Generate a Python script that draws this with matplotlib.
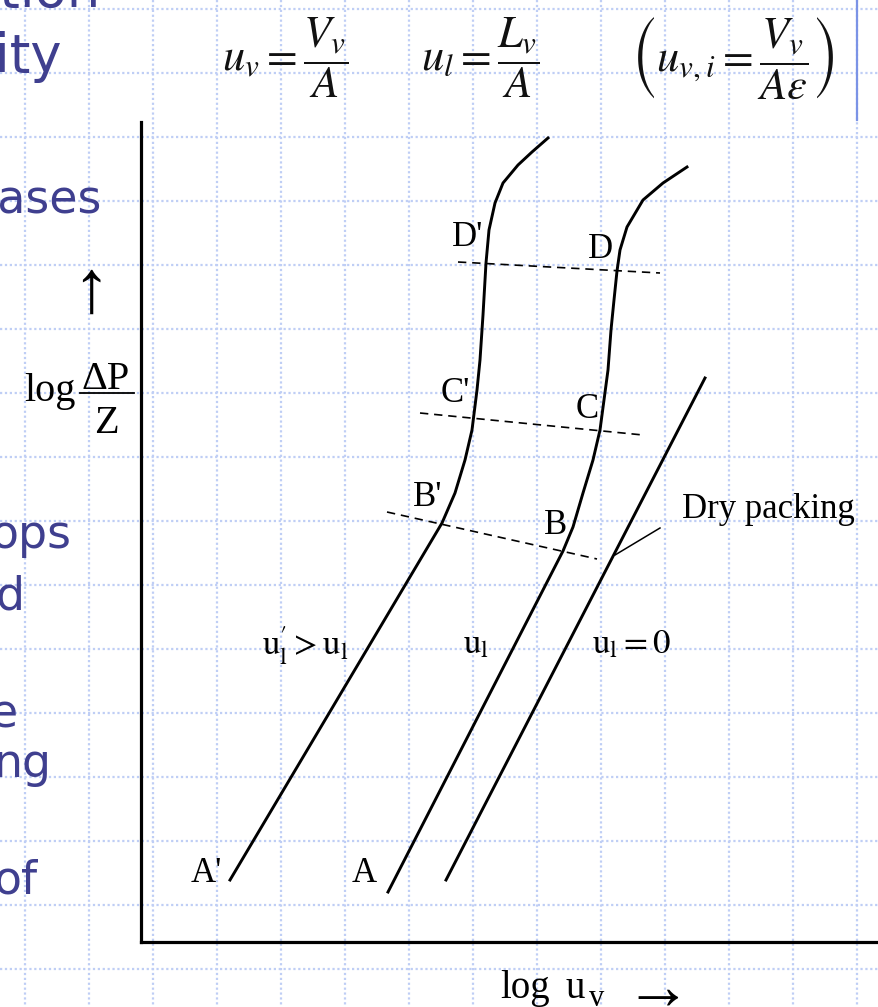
import numpy as np
import matplotlib
matplotlib.use('Agg')
import matplotlib.pyplot as plt

plt.rcParams['mathtext.fontset'] = 'stix'

W, H = 879, 1007
SERIF = ['Liberation Serif', 'DejaVu Serif']
SLIDE_BLUE = '#3f3f8f'
GRID_BLUE = '#bfcef5'

# curves: log u_v vs log dP/Z (arbitrary log units)
wet_hi_x = [0.89, 3.01, 3.14, 3.24, 3.31, 3.36, 3.39, 3.42, 3.45, 3.48, 3.54, 3.62, 3.77, 3.91, 4.07]
wet_hi_y = [0.62, 4.19, 4.49, 4.82, 5.12, 5.52, 5.82, 6.27, 6.79, 7.12, 7.39, 7.59, 7.77, 7.90, 8.04]

wet_x = [2.47, 4.22, 4.32, 4.42, 4.52, 4.59, 4.63, 4.67, 4.70, 4.73, 4.76, 4.79, 4.86, 5.02, 5.22, 5.46]
wet_y = [0.50, 3.91, 4.15, 4.49, 4.82, 5.12, 5.42, 5.72, 6.12, 6.42, 6.71, 6.92, 7.15, 7.42, 7.59, 7.75]

dry_x = [3.05, 5.64]
dry_y = [0.62, 5.64]

# loading / flooding tie lines (B, C, D)
tie_x = [[2.46, 4.56], [2.79, 5.02], [3.17, 5.19]]
tie_y = [[4.30, 3.83], [5.29, 5.07], [6.80, 6.69]]

leader_x = [5.19, 4.74]
leader_y = [4.14, 3.87]

point_labels = ["D'", "D", "C'", "C", "B'", "B", "A'", "A"]
point_x = [3.27, 4.60, 3.14, 4.46, 2.87, 4.15, 0.65, 2.23]
point_y = [7.05, 6.93, 5.49, 5.32, 4.45, 4.17, 0.68, 0.68]

curve_labels = [r"$\mathrm{u}_\mathrm{l}^{\prime} > \mathrm{u}_\mathrm{l}$",
                r"$\mathrm{u}_\mathrm{l}$",
                r"$\mathrm{u}_\mathrm{l} = 0$"]
curve_label_x = [1.21, 3.22, 4.51]
curve_label_y = [2.87, 2.89, 2.89]

# bits of slide body text cut off at the left edge: (text, right x, baseline y, size)
side_text = [("ation", 101, 7, 38), ("ity", 62, 72, 38), ("eases", 102, 213, 33),
             ("ops", 72, 548, 33), ("d", 25, 610, 33), ("e", 18, 727, 33),
             ("ng", 52, 777, 33), ("of", 38, 893, 33)]

fig = plt.figure(figsize=(W / 100, H / 100), dpi=100)

# slide background with the dotted grid
bg = fig.add_axes([0, 0, 1, 1])
bg.set_xlim(0, W)
bg.set_ylim(H, 0)
bg.axis('off')
for gx in np.arange(25, W, 64):
    bg.plot([gx, gx], [0, H], color=GRID_BLUE, lw=1.6, ls=(0, (1, 1.2)), zorder=0)
for gy in np.arange(8.5, H, 64):
    bg.plot([0, W], [gy, gy], color=GRID_BLUE, lw=1.6, ls=(0, (1, 1.2)), zorder=0)
bg.plot([857, 857], [0, 120], color='#7b93e6', lw=1.6, zorder=1)

for txt, rx, by, fs in side_text:
    bg.text(rx, by, txt, color=SLIDE_BLUE, fontsize=fs, family='DejaVu Sans',
            ha='right', va='baseline')

eq_kw = dict(fontsize=32, va='center', ha='left', color='#111111')
bg.text(222, 58, r'$u_v = \dfrac{V_v}{A}$', **eq_kw)
bg.text(421, 58, r'$u_l = \dfrac{L_v}{A}$', **eq_kw)
bg.text(631, 58, r'$\left(u_{v,i} = \dfrac{V_v}{A\varepsilon}\right)$', **eq_kw)

# y label: log dP/Z with up arrow
bg.text(91, 294, '\u2191', fontsize=54, family=SERIF, ha='center', va='center')
bg.text(76, 401, 'log', fontsize=29, family=SERIF, ha='right', va='baseline')
bg.text(106, 389, '\u0394P', fontsize=29, family=SERIF, ha='center', va='baseline')
bg.plot([80, 134], [393, 393], color='black', lw=1.3)
bg.text(106, 433, 'Z', fontsize=29, family=SERIF, ha='center', va='baseline')

# x label
bg.text(500, 998, 'log', fontsize=28, family=SERIF, ha='left', va='baseline')
bg.text(566, 998, 'u', fontsize=28, family=SERIF, ha='left', va='baseline')
bg.text(589, 1006, 'v', fontsize=22, family=SERIF, ha='left', va='baseline')
bg.text(658, 992, '\u2192', fontsize=48, family=SERIF, ha='center', va='center')

# chart area
ax = fig.add_axes([141 / W, (H - 942) / H, (877 - 141) / W, (942 - 122) / H])
ax.patch.set_alpha(0)
ax.set_xlim(0, 7.36)
ax.set_ylim(0, 8.2)
for side in ['top', 'right']:
    ax.spines[side].set_visible(False)
for side in ['left', 'bottom']:
    ax.spines[side].set_linewidth(2.3)
ax.set_xticks([])
ax.set_yticks([])

ax.plot(wet_hi_x, wet_hi_y, color='black', lw=2.1, solid_joinstyle='round')
ax.plot(wet_x, wet_y, color='black', lw=2.1, solid_joinstyle='round')
ax.plot(dry_x, dry_y, color='black', lw=2.1)
for tx, ty in zip(tie_x, tie_y):
    ax.plot(tx, ty, color='black', lw=1.2, ls=(0, (5, 3.5)))
ax.plot(leader_x, leader_y, color='black', lw=1.1)

for lab, lx, ly in zip(point_labels, point_x, point_y):
    ax.text(lx, ly, lab, fontsize=25, family=SERIF, ha='center', va='center')
for lab, lx, ly in zip(curve_labels, curve_label_x, curve_label_y):
    ax.text(lx, ly, lab, fontsize=25, ha='left', va='baseline')
ax.text(5.41, 4.32, 'Dry packing', fontsize=25, family=SERIF, ha='left', va='center')

fig.savefig('out.png', dpi=100)
